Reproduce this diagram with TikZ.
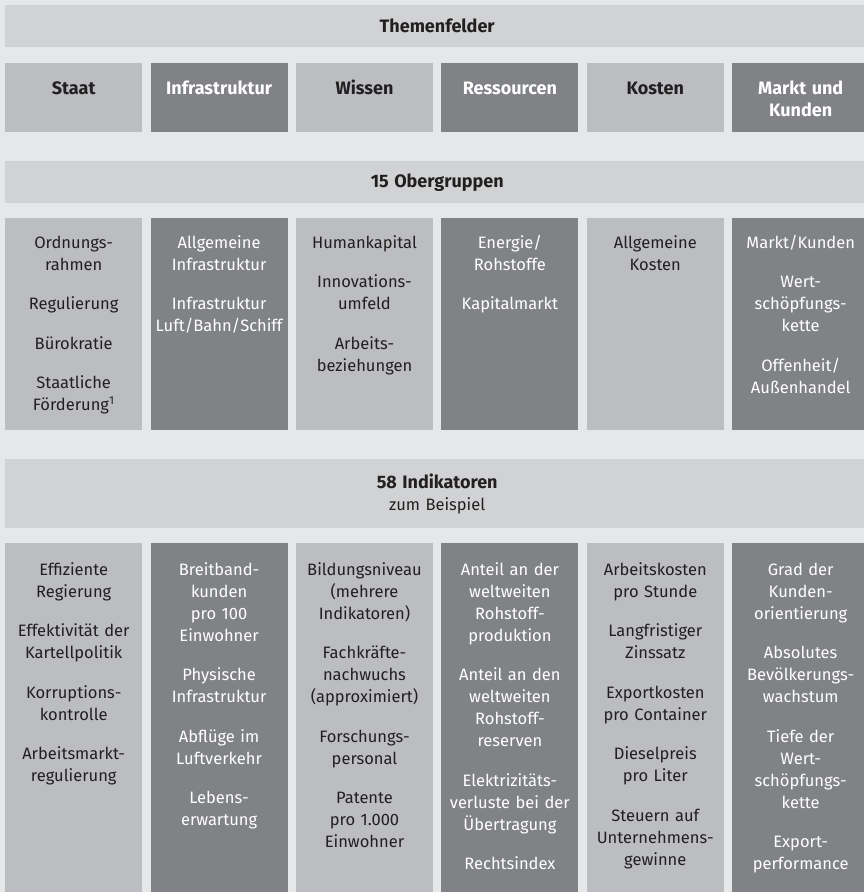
\documentclass[tikz,border=0pt]{standalone}
\usepackage{fontspec}
\setmainfont{Fira Sans}
\usepackage{xcolor}
\usepackage{tikz}

\definecolor{bggray}{HTML}{E6E7E8}
\definecolor{bargray}{HTML}{D1D2D4}
\definecolor{lightgray}{HTML}{BCBDC0}
\definecolor{darkgray}{HTML}{808285}
\definecolor{ink}{HTML}{231F20}

\newcommand{\nextitem}{\\[17.5pt]}
\newcommand{\head}[1]{{\fontsize{18}{22}\selectfont\bfseries #1}}

\begin{document}
\begin{tikzpicture}[x=1pt,y=-1pt,
	bar/.style={fill=bargray, anchor=north west, inner sep=0pt, minimum width=864pt},
	lbox/.style={fill=lightgray, anchor=north west, inner sep=0pt, minimum width=137pt},
	dbox/.style={fill=darkgray, anchor=north west, inner sep=0pt, minimum width=137pt},
	ltext/.style={anchor=base, text width=137pt, align=center, inner sep=0pt, text=ink,
		font=\fontsize{16.5}{22}\selectfont},
	dtext/.style={ltext, text=white}]
\fill [bggray] (0,0) rectangle (864,892);
\useasboundingbox (0,0) rectangle (864,892);

% Themenfelder
\node [bar, minimum height=42pt] (themen) at (5,5) {};
\node [ltext, anchor=center, text width=300pt] (themenT) at (themen.center) {\head{Themenfelder}};
\node [lbox, minimum height=69pt] (staat) at (5,63) {};
\node [dbox, minimum height=69pt] (infra) at (150.4,63) {};
\node [lbox, minimum height=69pt] (wissen) at (295.8,63) {};
\node [dbox, minimum height=69pt] (ressourcen) at (441.2,63) {};
\node [lbox, minimum height=69pt] (kosten) at (586.6,63) {};
\node [dbox, minimum height=69pt] (markt) at (732,63) {};
\node [ltext] (staatT) at ([yshift=-31pt]staat.north) {\head{Staat}};
\node [dtext] (infraT) at ([yshift=-31pt]infra.north) {\head{Infrastruktur}};
\node [ltext] (wissenT) at ([yshift=-31pt]wissen.north) {\head{Wissen}};
\node [dtext] (ressourcenT) at ([yshift=-31pt]ressourcen.north) {\head{Ressourcen}};
\node [ltext] (kostenT) at ([yshift=-31pt]kosten.north) {\head{Kosten}};
\node [dtext] (marktT) at ([yshift=-31pt]markt.north) {\head{Markt und}\\\head{Kunden}};

% Obergruppen
\node [bar, minimum height=42pt] (ober) at (5,161) {};
\node [ltext, anchor=center, text width=300pt] (oberT) at (ober.center) {\head{15 Obergruppen}};
\node [lbox, minimum height=212pt] (ogStaat) at (5,218) {};
\node [dbox, minimum height=212pt] (ogInfra) at (150.4,218) {};
\node [lbox, minimum height=212pt] (ogWissen) at (295.8,218) {};
\node [dbox, minimum height=212pt] (ogRes) at (441.2,218) {};
\node [lbox, minimum height=212pt] (ogKosten) at (586.6,218) {};
\node [dbox, minimum height=212pt] (ogMarkt) at (732,218) {};
\node [ltext] (ogStaatT) at ([yshift=-30pt]ogStaat.north)
	{Ordnungs-\\rahmen\nextitem Regulierung\nextitem B\"urokratie\nextitem Staatliche\\F\"orderung\textsuperscript{1}};
\node [dtext] (ogInfraT) at ([yshift=-30pt]ogInfra.north)
	{Allgemeine\\Infrastruktur\nextitem Infrastruktur\\Luft/Bahn/Schiff};
\node [ltext] (ogWissenT) at ([yshift=-30pt]ogWissen.north)
	{Humankapital\nextitem Innovations-\\umfeld\nextitem Arbeits-\\beziehungen};
\node [dtext] (ogResT) at ([yshift=-30pt]ogRes.north)
	{Energie/\\Rohstoffe\nextitem Kapitalmarkt};
\node [ltext] (ogKostenT) at ([yshift=-30pt]ogKosten.north)
	{Allgemeine\\Kosten};
\node [dtext] (ogMarktT) at ([yshift=-30pt]ogMarkt.north)
	{Markt/Kunden\nextitem Wert-\\sch\"opfungs-\\kette\nextitem Offenheit/\\Au\ss enhandel};

% Indikatoren
\node [bar, minimum height=69pt] (indi) at (5,459) {};
\node [ltext, anchor=center, text width=300pt] (indiT) at (indi.center) {\head{58 Indikatoren}\\zum Beispiel};
\node [lbox, minimum height=349pt] (inStaat) at (5,543) {};
\node [dbox, minimum height=349pt] (inInfra) at (150.4,543) {};
\node [lbox, minimum height=349pt] (inWissen) at (295.8,543) {};
\node [dbox, minimum height=349pt] (inRes) at (441.2,543) {};
\node [lbox, minimum height=349pt] (inKosten) at (586.6,543) {};
\node [dbox, minimum height=349pt] (inMarkt) at (732,543) {};
\node [ltext] (inStaatT) at ([yshift=-32pt]inStaat.north)
	{Effiziente\\Regierung\nextitem Effektivit\"at der\\Kartellpolitik\nextitem Korruptions-\\kontrolle\nextitem Arbeitsmarkt-\\regulierung};
\node [dtext] (inInfraT) at ([yshift=-32pt]inInfra.north)
	{Breitband-\\kunden\\pro 100\\Einwohner\nextitem Physische\\Infrastruktur\nextitem Abfl\"uge im\\Luftverkehr\nextitem Lebens-\\erwartung};
\node [ltext] (inWissenT) at ([yshift=-32pt]inWissen.north)
	{Bildungsniveau\\(mehrere\\Indikatoren)\nextitem Fachkr\"afte-\\nachwuchs\\(approximiert)\nextitem Forschungs-\\personal\nextitem Patente\\pro 1.000\\Einwohner};
\node [dtext] (inResT) at ([yshift=-32pt]inRes.north)
	{Anteil an der\\weltweiten\\Rohstoff-\\produktion\nextitem Anteil an den\\weltweiten\\Rohstoff-\\reserven\nextitem Elektrizit\"ats-\\verluste bei der\\\"Ubertragung\nextitem Rechtsindex};
\node [ltext] (inKostenT) at ([yshift=-32pt]inKosten.north)
	{Arbeitskosten\\pro Stunde\nextitem Langfristiger\\Zinssatz\nextitem Exportkosten\\pro Container\nextitem Dieselpreis\\pro Liter\nextitem Steuern auf\\Unternehmens-\\gewinne};
\node [dtext] (inMarktT) at ([yshift=-32pt]inMarkt.north)
	{Grad der\\Kunden-\\orientierung\nextitem Absolutes\\Bev\"olkerungs-\\wachstum\nextitem Tiefe der\\Wert-\\sch\"opfungs-\\kette\nextitem Export-\\performance};
\end{tikzpicture}
\end{document}
